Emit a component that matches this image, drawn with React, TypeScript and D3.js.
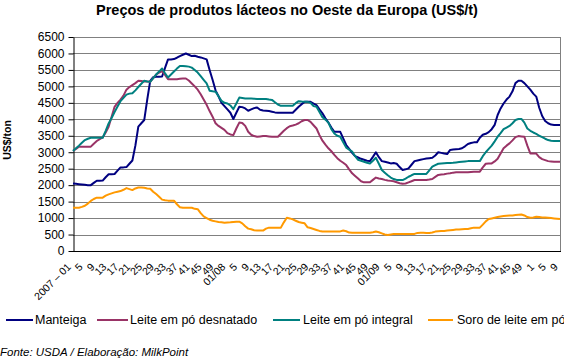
import React, { useEffect, useRef } from 'react';
import * as d3 from 'd3';

// weekly prices, US$/t (2007 wk1 .. 2010 wk9)
const manteiga = [
  2050, 2040, 2030, 2020, 2010, 2000, 2000, 2070, 2135, 2135,
  2140, 2240, 2330, 2330, 2340, 2440, 2540, 2540, 2550, 2650,
  2750, 3200, 3780, 3880, 3980, 4600, 5170, 5280, 5290, 5290,
  5300, 5560, 5820, 5820, 5830, 5870, 5920, 5960, 6000, 5960,
  5920, 5930, 5900, 5880, 5850, 5820, 5500, 5200, 4880, 4700,
  4500, 4400, 4300, 4200, 4010, 4200, 4380, 4370, 4330,
  4260, 4300, 4340, 4360, 4290, 4270, 4260, 4250, 4230, 4210,
  4200, 4200, 4200, 4200, 4200, 4200, 4290, 4380, 4460, 4530,
  4530, 4530, 4480, 4430, 4300, 4180, 4030, 3900, 3750, 3620,
  3620, 3620, 3420, 3220, 3100, 2980, 2880, 2840, 2800, 2770,
  2740, 2730, 2860, 3000, 2850, 2730, 2710, 2690, 2660, 2670,
  2650, 2550, 2460, 2480, 2510, 2620, 2730, 2750, 2770,
  2790, 2810, 2820, 2830, 2900, 3000, 2980, 2960, 2945, 3070,
  3080, 3090, 3100, 3120, 3180, 3250, 3280, 3300, 3300, 3440,
  3530, 3560, 3610, 3700, 3830, 4130, 4330, 4480, 4600, 4690,
  4850, 5100, 5170, 5170, 5100, 5000, 4900, 4780, 4690, 4350,
  4100, 3950, 3880, 3840, 3830, 3830, 3830
];

const desnatado = [
  3040, 3100, 3170, 3170, 3170, 3170, 3170, 3260, 3340, 3400,
  3450, 3600, 3775, 4080, 4380, 4500, 4600, 4720, 4900, 4980,
  5040, 5100, 5170, 5160, 5150, 5150, 5140, 5250, 5360, 5420,
  5460, 5350, 5220, 5220, 5220, 5220, 5230, 5240, 5240, 5180,
  5090, 5000, 4900, 4760, 4600, 4440, 4250, 4080, 3880, 3800,
  3740, 3680, 3580, 3540, 3520, 3720, 3900, 3890, 3800,
  3620, 3530, 3490, 3470, 3480, 3490, 3490, 3480, 3470, 3470,
  3470, 3560, 3650, 3730, 3790, 3810, 3840, 3880, 3940, 3980,
  3980, 3920, 3820, 3720, 3520, 3350, 3230, 3120, 3030, 2920,
  2820, 2740, 2680, 2610, 2480, 2360, 2280, 2200, 2120, 2085,
  2085, 2085, 2160, 2230, 2200, 2185, 2160, 2140, 2130, 2120,
  2090, 2060, 2040, 2050, 2085, 2120, 2155, 2155, 2155,
  2160, 2160, 2170, 2185, 2250, 2310, 2320, 2330, 2350, 2360,
  2380, 2390, 2390, 2390, 2390, 2390, 2400, 2410, 2410, 2410,
  2540, 2650, 2660, 2660, 2720, 2800, 2960, 3120, 3200, 3270,
  3360, 3460, 3490, 3480, 3470, 3200, 2965, 2965, 2960, 2850,
  2790, 2760, 2730, 2720, 2710, 2710, 2710
];

const integral = [
  3040, 3120, 3200, 3290, 3370, 3410, 3440, 3440, 3440, 3440,
  3440, 3650, 3875, 4040, 4220, 4390, 4550, 4650, 4750, 4780,
  4790, 4880, 4980, 5080, 5170, 5150, 5140, 5250, 5360, 5450,
  5545, 5400, 5270, 5360, 5450, 5540, 5620, 5620, 5610, 5600,
  5570, 5500, 5420, 5310, 5200, 5090, 4870, 4850, 4840, 4700,
  4560, 4500, 4480, 4420, 4310, 4480, 4660, 4650, 4635,
  4630, 4630, 4625, 4620, 4620, 4615, 4615, 4600, 4590, 4520,
  4450, 4410, 4410, 4410, 4410, 4410, 4490, 4550, 4540, 4535,
  4530, 4500, 4400, 4380, 4220, 4060, 3990, 3900, 3700, 3570,
  3500, 3470, 3300, 3140, 3080, 3020, 2880, 2770, 2740, 2710,
  2680, 2660, 2740, 2830, 2650, 2460, 2380, 2300, 2230, 2185,
  2160, 2155, 2155, 2200, 2255, 2300, 2340, 2340, 2340,
  2340, 2340, 2450, 2560, 2610, 2650, 2660, 2665, 2670, 2675,
  2680, 2690, 2700, 2710, 2720, 2730, 2730, 2730, 2730, 2730,
  2880, 3000, 3100, 3200, 3330, 3470, 3580, 3700, 3750, 3800,
  3880, 3980, 4010, 4010, 3900, 3720, 3650, 3600, 3560, 3500,
  3460, 3410, 3370, 3350, 3340, 3340, 3340
];

const soro = [
  1315, 1315, 1315, 1340, 1375, 1440, 1520, 1580, 1620, 1620,
  1620, 1680, 1720, 1750, 1780, 1800, 1820, 1860, 1910, 1880,
  1850, 1900, 1930, 1925, 1920, 1900, 1890, 1800, 1730, 1650,
  1560, 1540, 1530, 1530, 1530, 1420, 1330, 1315, 1315, 1315,
  1315, 1280, 1270, 1150, 1050, 1000, 950, 920, 900, 880,
  870, 860, 865, 870, 880, 890, 890, 840, 750,
  680, 660, 630, 620, 620, 620, 680, 710, 710, 710,
  710, 710, 870, 1010, 990, 960, 920, 880, 860, 840,
  720, 700, 670, 640, 610, 595, 590, 590, 590, 590,
  590, 595, 620, 600, 560, 555, 555, 555, 555, 555,
  555, 555, 570, 590, 570, 535, 500, 485, 500, 515,
  515, 515, 515, 515, 515, 515, 520, 550, 555,
  555, 545, 545, 560, 590, 600, 605, 610, 620, 630,
  640, 650, 655, 660, 665, 670, 690, 710, 710, 710,
  800, 900, 970, 990, 1010, 1030, 1050, 1060, 1070, 1075,
  1080, 1090, 1100, 1110, 1080, 1030, 1010, 1020, 1040, 1030,
  1020, 1020, 1010, 1000, 990, 980, 970
];

// one label every 4th week
const tickLabels = [
  '2007 – 01', '5', '9', '13', '17', '21', '25', '29', '33', '37', '41', '45', '49',
  '01/08', '5', '9', '13', '17', '21', '25', '29', '33', '37', '41', '45', '49',
  '01/09', '5', '9', '13', '17', '21', '25', '29', '33', '37', '41', '45', '49',
  '1', '5', '9'
];

const yTicks = [0, 500, 1000, 1500, 2000, 2500, 3000, 3500, 4000, 4500, 5000, 5500, 6000, 6500];

const seriesNames = ['Manteiga', 'Leite em pó desnatado', 'Leite em pó integral', 'Soro de leite em pó'];
const seriesValues = [manteiga, desnatado, integral, soro];
const colors = ['#000080', '#993366', '#008080', '#FF9900'];

const W = 564;
const H = 359;
const plot = { left: 73, right: 560, top: 37, bottom: 251 };
const legendX = [[6, 33, 35], [97, 128, 130], [273, 300, 303], [428, 453, 457]];
const FONT = '"Liberation Sans", Arial, sans-serif';

const App = () => {
  const svgRef = useRef<SVGSVGElement>(null);

  useEffect(() => {
    const svg = d3.select(svgRef.current);
    svg.selectAll('*').remove();

    const n = manteiga.length;
    const x = d3.scaleLinear().domain([0, n - 1]).range([plot.left, plot.right]);
    const y = d3.scaleLinear().domain([0, 6500]).range([plot.bottom, plot.top]);

    // title
    svg.append('text')
      .attr('x', 287).attr('y', 15)
      .attr('text-anchor', 'middle')
      .style('font', `bold 14.5px ${FONT}`)
      .text('Preços de produtos lácteos no Oeste da Europa (US$/t)');

    // gridlines
    svg.append('g').selectAll('line')
      .data(yTicks.filter(d => d > 0))
      .enter().append('line')
      .attr('x1', plot.left).attr('x2', plot.right)
      .attr('y1', d => Math.round(y(d)) + 0.5).attr('y2', d => Math.round(y(d)) + 0.5)
      .attr('stroke', '#808080');

    // right border
    svg.append('line')
      .attr('x1', plot.right + 0.5).attr('x2', plot.right + 0.5)
      .attr('y1', plot.top).attr('y2', plot.bottom)
      .attr('stroke', '#808080');

    // y axis
    const yAxis = svg.append('g')
      .attr('transform', `translate(${plot.left + 0.5},0)`)
      .call(d3.axisLeft(y).tickValues(yTicks).tickFormat(d3.format('d'))
        .tickSize(5).tickSizeOuter(0).tickPadding(4));
    yAxis.select('.domain').attr('stroke', '#000');
    yAxis.selectAll('.tick line').attr('stroke', '#000');
    yAxis.selectAll('.tick text').style('font', `12px ${FONT}`).attr('fill', '#000');

    // x axis line
    svg.append('line')
      .attr('x1', plot.left).attr('x2', plot.right + 1)
      .attr('y1', plot.bottom + 0.5).attr('y2', plot.bottom + 0.5)
      .attr('stroke', '#000');

    // x tick labels
    svg.append('g').selectAll('text')
      .data(tickLabels)
      .enter().append('text')
      .attr('transform', (d, i) => `translate(${x(i * 4) - 4},${plot.bottom + 14}) rotate(-45)`)
      .attr('text-anchor', 'end')
      .attr('dy', '0.35em')
      .style('font', `10.5px ${FONT}`)
      .text(d => d);

    // y title
    svg.append('text')
      .attr('transform', 'translate(11,140) rotate(-90)')
      .attr('text-anchor', 'middle')
      .style('font', `bold 10.5px ${FONT}`)
      .text('US$/ton');

    // lines
    const line = d3.line<number>()
      .x((d, i) => x(i))
      .y(d => y(d));

    svg.append('g').selectAll('path')
      .data(seriesValues)
      .enter().append('path')
      .attr('d', d => line(d))
      .attr('fill', 'none')
      .attr('stroke', (d, i) => colors[i])
      .attr('stroke-width', 2)
      .attr('stroke-linejoin', 'round');

    // legend
    const leg = svg.append('g').selectAll('g')
      .data(seriesNames)
      .enter().append('g');
    leg.append('line')
      .attr('x1', (d, i) => legendX[i][0]).attr('x2', (d, i) => legendX[i][1])
      .attr('y1', 320).attr('y2', 320)
      .attr('stroke', (d, i) => colors[i])
      .attr('stroke-width', 2);
    leg.append('text')
      .attr('x', (d, i) => legendX[i][2]).attr('y', 320)
      .attr('dy', '0.35em')
      .style('font', `12.5px ${FONT}`)
      .text(d => d);

    // source
    svg.append('text')
      .attr('x', 0).attr('y', 356)
      .style('font', `italic 11.5px ${FONT}`)
      .text('Fonte: USDA / Elaboração: MilkPoint');
  }, []);

  return (
    <svg
      ref={svgRef}
      width={W}
      height={H}
      style={{ position: 'absolute', left: 0, top: 0, background: '#fff' }}
    />
  );
};

export default App;
